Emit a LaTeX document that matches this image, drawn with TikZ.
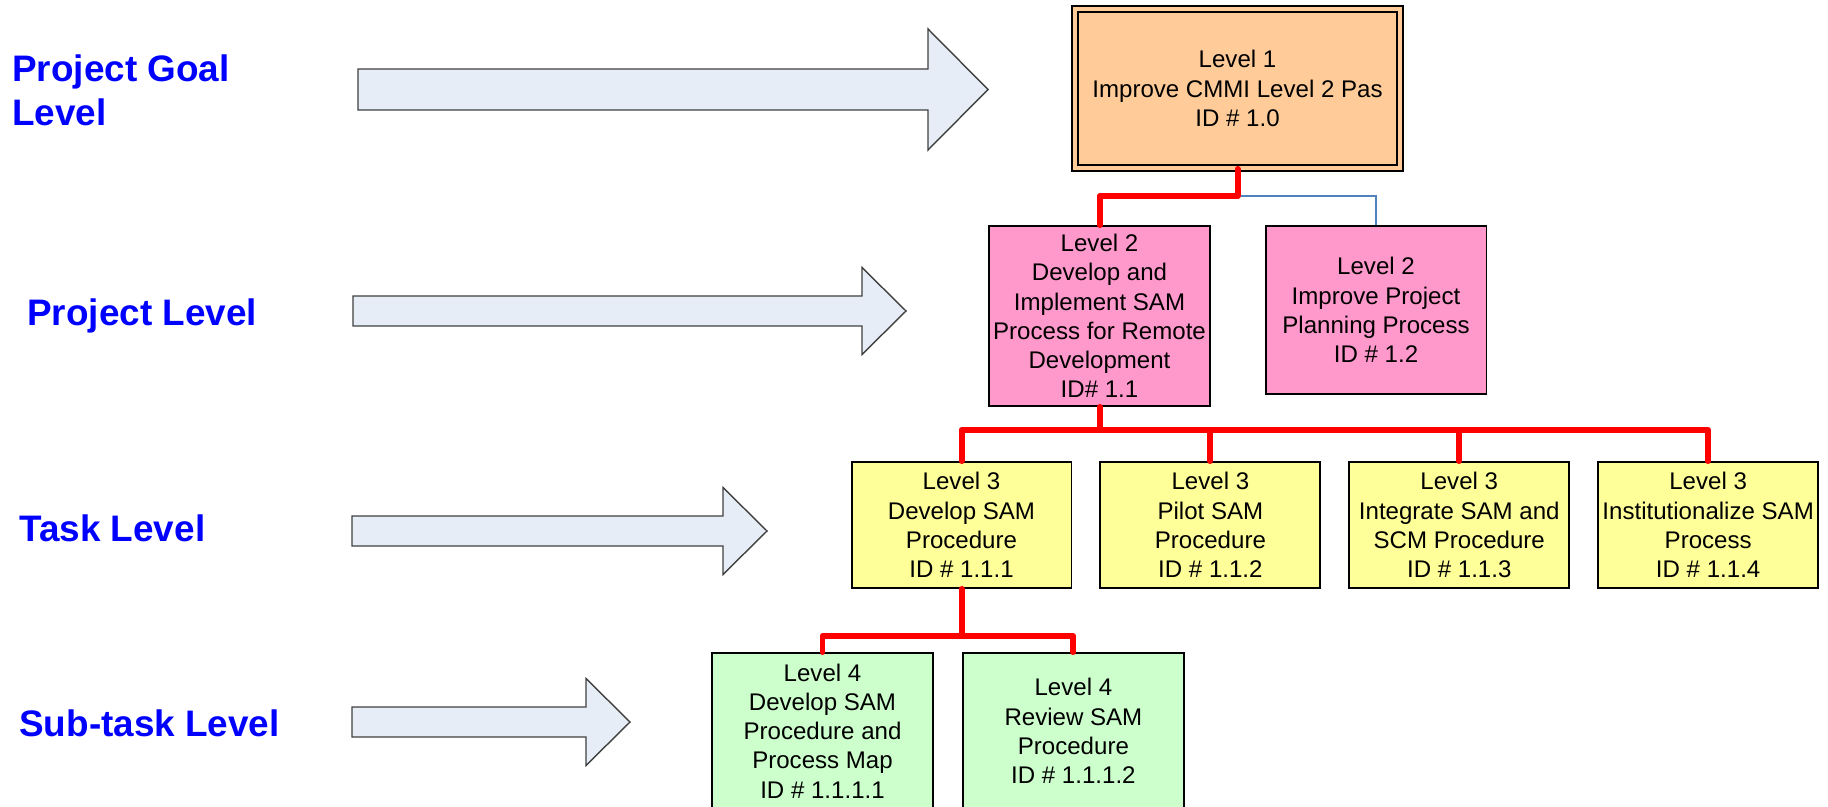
\documentclass[tikz,border=0pt]{standalone}
\usepackage{fontspec}
\setmainfont{Liberation Sans}
\usepackage{tikz}
\usetikzlibrary{positioning}
\definecolor{goalfill}{HTML}{FFCC99}
\definecolor{projfill}{HTML}{FF99CC}
\definecolor{taskfill}{HTML}{FFFF99}
\definecolor{subfill}{HTML}{CCFFCC}
\definecolor{arrowfill}{HTML}{E6EDF7}
\definecolor{arrowline}{HTML}{404040}
\definecolor{labelblue}{HTML}{0000FF}
\definecolor{treered}{HTML}{FF0000}
\definecolor{planblue}{HTML}{4F81BD}
\tikzstyle{box} = [rectangle, draw=black, line width=1.1pt, inner sep=0pt, align=center,
    font=\fontsize{13.7}{16.6}\selectfont]
\tikzstyle{goalbox} = [box, fill=goalfill, line width=1.1pt, double=goalfill, double distance=0.09cm,
    minimum width=6.5cm, minimum height=3.18cm]
\tikzstyle{projbox} = [box, fill=projfill, minimum width=4.42cm]
\tikzstyle{taskbox} = [box, fill=taskfill, minimum width=4.4cm, minimum height=2.52cm]
\tikzstyle{subbox} = [box, fill=subfill, minimum width=4.42cm, minimum height=3.12cm]
\tikzstyle{levellabel} = [inner sep=0pt, align=left, text=labelblue,
    font=\bfseries\fontsize{21}{25}\selectfont]
\tikzstyle{levelarrow} = [fill=arrowfill, draw=arrowline, line width=0.8pt]
\tikzstyle{treeline} = [treered, line width=3.4pt, line cap=round, line join=round]
\tikzstyle{planline} = [planblue, line width=0.9pt]

\begin{document}
\begin{tikzpicture}[x=0.02cm, y=-0.02cm]
\useasboundingbox (0,0) rectangle (1828,807);
% level labels on the left
\node[levellabel, anchor=west] (goallbl) at (12,90) {Project Goal\\Level};
\node[levellabel, anchor=base west] (projlbl) at (27,326) {Project Level};
\node[levellabel, anchor=base west] (tasklbl) at (19,541) {Task Level};
\node[levellabel, anchor=base west] (sublbl) at (19,736) {Sub-task Level};
% block arrows
\foreach \xa/\xs/\xt/\yc/\h/\hh in {358/928/988/89.5/20.5/60.5, 353/862/906/311/15/43.5,
    352/723/767/531/15/43.5, 352/586/630/722/15/43.5}
  \draw[levelarrow] (\xa,\yc-\h) -- (\xs,\yc-\h) -- (\xs,\yc-\hh) -- (\xt,\yc)
    -- (\xs,\yc+\hh) -- (\xs,\yc+\h) -- (\xa,\yc+\h) -- cycle;
% WBS boxes
\node[goalbox] (l1) at (1237.5,88.5) {Level 1\\Improve CMMI Level 2 Pas\\ID \# 1.0};
\node[projbox, minimum height=3.6cm] (l2a) at (1099.5,316)
    {Level 2\\Develop and\\Implement SAM\\Process for Remote\\Development\\ID\# 1.1};
\node[projbox, minimum height=3.36cm] (l2b) at (1376,310)
    {Level 2\\Improve Project\\Planning Process\\ID \# 1.2};
\node[taskbox] (l3a) at (961.5,525) {Level 3\\Develop SAM\\Procedure\\ID \# 1.1.1};
\node[taskbox, right=0.54cm of l3a] (l3b) {Level 3\\Pilot SAM\\Procedure\\ID \# 1.1.2};
\node[taskbox, right=0.54cm of l3b] (l3c) {Level 3\\Integrate SAM and\\SCM Procedure\\ID \# 1.1.3};
\node[taskbox, right=0.54cm of l3c] (l3d) {Level 3\\Institutionalize SAM\\Process\\ID \# 1.1.4};
\node[subbox] (l4a) at (822.5,731)
    {Level 4\\Develop SAM\\Procedure and\\Process Map\\ID \# 1.1.1.1};
\node[subbox, right=0.56cm of l4a] (l4b) {Level 4\\Review SAM\\Procedure\\ID \# 1.1.1.2};
% connectors
\draw[planline] (l1.south) ++(0,27) -| (l2b.north);
\draw[treeline] (l1.south) -- ++(0,27) -| (l2a.north);
\draw[treeline] (l2a.south) -- ++(0,23) coordinate (j2);
\foreach \n in {l3a,l3b,l3c,l3d}
  \draw[treeline] (j2) -| (\n.north);
\draw[treeline] (l3a.south) -- ++(0,47) coordinate (j3);
\foreach \n in {l4a,l4b}
  \draw[treeline] (j3) -| (\n.north);
\end{tikzpicture}
\end{document}
